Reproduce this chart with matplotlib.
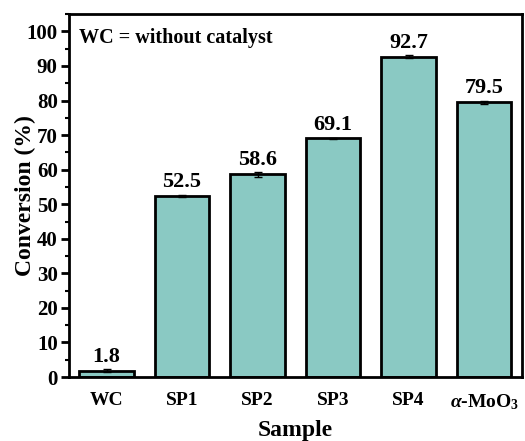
import numpy as np
import matplotlib
matplotlib.use("Agg")
import matplotlib.pyplot as plt
from matplotlib.ticker import MultipleLocator

samples = ["WC", "SP1", "SP2", "SP3", "SP4", r"$\alpha$-MoO$_3$"]
conversion = [1.8, 52.5, 58.6, 69.1, 92.7, 79.5]
errors = [0.4, 0.3, 0.6, 0.2, 0.5, 0.5]

plt.rcParams['font.family'] = 'Liberation Serif'
plt.rcParams['font.weight'] = 'bold'
plt.rcParams['mathtext.fontset'] = 'custom'
plt.rcParams['mathtext.rm'] = 'Liberation Serif:bold'
plt.rcParams['mathtext.it'] = 'Liberation Serif:bold:italic'

fig, ax = plt.subplots(figsize=(5.25, 4.41), dpi=100)
fig.subplots_adjust(left=0.131, right=0.994, top=0.968, bottom=0.145)

x = np.arange(len(samples))
ax.bar(x, conversion, width=0.72, color='#8ac9c3', edgecolor='black', linewidth=2,
       yerr=errors, capsize=3, error_kw=dict(ecolor='black', elinewidth=1, capthick=1), zorder=2)

for xi, v, e in zip(x, conversion, errors):
    ax.text(xi, v + e + 0.6, f"{v:.1f}", ha='center', va='bottom', fontsize=16, fontweight='bold')

ax.set_xlim(-0.5, 5.5)
ax.set_ylim(0, 105)
ax.set_xticks(x)
ax.set_xticklabels(samples, fontsize=14, fontweight='bold')
ax.tick_params(axis='x', length=0, pad=11)
ax.yaxis.set_major_locator(MultipleLocator(10))
ax.yaxis.set_minor_locator(MultipleLocator(5))
ax.tick_params(axis='y', which='major', length=6, width=2, labelsize=15, pad=2)
ax.tick_params(axis='y', which='minor', length=3, width=1.5)
for lbl in ax.get_yticklabels():
    lbl.set_fontweight('bold')
for s in ax.spines.values():
    s.set_linewidth(2)

ax.set_xlabel("Sample", fontsize=17, fontweight='bold')
ax.set_ylabel("Conversion (%)", fontsize=17, fontweight='bold')
ax.yaxis.set_label_coords(-0.072, 0.5)
ax.xaxis.set_label_coords(0.5, -0.117)
ax.text(0.022, 0.962, "WC = without catalyst", transform=ax.transAxes, ha='left', va='top',
        fontsize=14.5, fontweight='bold')

fig.savefig("out.png", dpi=100)
